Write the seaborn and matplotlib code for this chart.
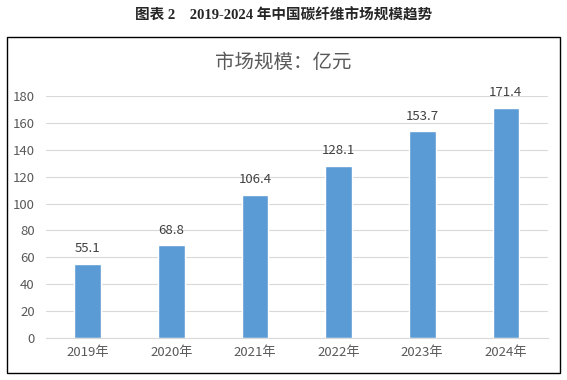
import pandas as pd
import matplotlib.pyplot as plt
import seaborn as sns
from matplotlib.patches import Rectangle

years = ["2019年", "2020年", "2021年", "2022年", "2023年", "2024年"]
market_size = [55.1, 68.8, 106.4, 128.1, 153.7, 171.4]
y_ticks = [0, 20, 40, 60, 80, 100, 120, 140, 160, 180]


def main():
    sns.set_style("white")
    plt.rcParams["font.family"] = ["Noto Sans CJK SC", "DejaVu Sans"]

    fig = plt.figure(figsize=(5.67, 3.8), dpi=100)
    ax = fig.add_axes([0.081, 0.1105, 0.885, 0.637])

    data = pd.DataFrame({"year": years, "size": market_size})
    sns.barplot(data=data, x="year", y="size", color="#5B9BD5",
                saturation=1, width=0.32, ax=ax)

    # value labels above bars
    for i, v in enumerate(market_size):
        ax.text(i, v + 6.5, f"{v}", ha="center", va="bottom",
                fontsize=9.5, color="#404040")

    ax.set_ylim(0, 180)
    ax.set_yticks(y_ticks)
    ax.set_xlim(-0.5, len(years) - 0.5)
    ax.yaxis.grid(True, color="#d9d9d9", linewidth=0.8)
    ax.set_axisbelow(True)
    for s in ["top", "right", "left"]:
        ax.spines[s].set_visible(False)
    ax.spines["bottom"].set_color("#d9d9d9")
    ax.tick_params(axis="both", length=0, labelsize=9.5, colors="#595959")
    ax.tick_params(axis="y", pad=8)
    ax.tick_params(axis="x", pad=6)
    ax.set_xlabel("")
    ax.set_ylabel("")

    fig.text(0.5, 0.835, "市场规模：亿元", ha="center", va="center",
             fontsize=14, color="#595959")
    fig.text(0.5, 0.96, "图表 2    2019-2024 年中国碳纤维市场规模趋势",
             ha="center", va="center", fontsize=10.5, fontweight="bold",
             family=["Liberation Serif", "Noto Sans CJK SC"])

    fig.patches.append(Rectangle((0.0123, 0.018), 0.975, 0.884,
                                 transform=fig.transFigure, fill=False,
                                 edgecolor="black", linewidth=1))

    fig.savefig("out.png", dpi=100)


if __name__ == "__main__":
    main()
